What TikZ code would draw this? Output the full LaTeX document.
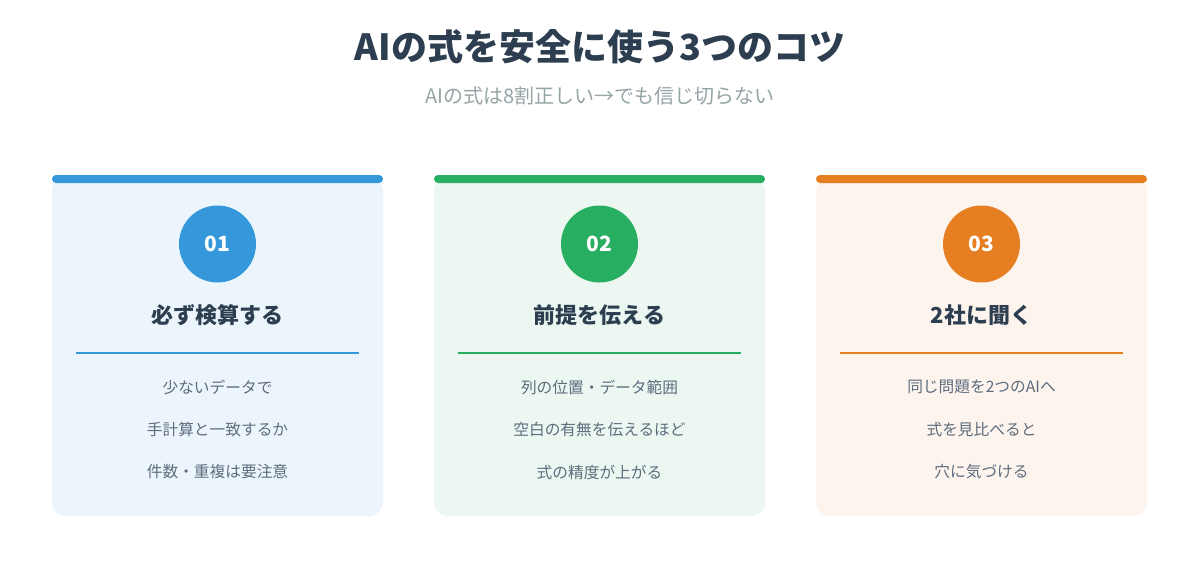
\documentclass[tikz,border=0pt]{standalone}
\usepackage{fontspec}
\setmainfont{Noto Sans CJK JP}
\definecolor{ink}{HTML}{2C3E50}
\definecolor{sub}{HTML}{95A5A6}
\definecolor{body}{HTML}{5D6D7E}
\definecolor{cA}{HTML}{3498DB}\definecolor{fA}{HTML}{EDF5FC}
\definecolor{cB}{HTML}{27AE60}\definecolor{fB}{HTML}{EBF7F0}
\definecolor{cC}{HTML}{E67E22}\definecolor{fC}{HTML}{FDF4EE}
\begin{document}
\begin{tikzpicture}[x=1pt,y=1pt,
  ttl/.style={font=\fontsize{36}{40}\selectfont\bfseries,text=ink},
  stl/.style={font=\fontsize{20}{24}\selectfont,text=sub},
  num/.style={circle,minimum size=77pt,inner sep=0pt,text=white,font=\fontsize{21}{24}\selectfont\bfseries},
  head/.style={font=\fontsize{22}{26}\selectfont\bfseries,text=ink},
  item/.style={font=\fontsize{15.7}{18}\selectfont,text=body}]
\fill[white] (0,0) rectangle (1200,-560);
\node[ttl] (t) at (600,-47) {AIの式を安全に使う3つのコツ};
\node[stl] (s) at (600,-96) {AIの式は8割正しい→でも信じ切らない};
\foreach \x/\c/\f/\n/\h/\a/\b/\d in {
 52/cA/fA/01/必ず検算する/少ないデータで/手計算と一致するか/件数・重複は要注意,
 434/cB/fB/02/前提を伝える/列の位置・データ範囲/空白の有無を伝えるほど/式の精度が上がる,
 816/cC/fC/03/2社に聞く/同じ問題を2つのAIへ/式を見比べると/穴に気づける}{
  \fill[\f,rounded corners=14pt] (\x,-177) rectangle (\x+331,-516);
  \fill[\c,rounded corners=4pt] (\x,-175) rectangle (\x+331,-183);
  \node[num,fill=\c] (n\n) at (\x+165.5,-244) {\n};
  \node[head] (h\n) at (\x+165.5,-315) {\h};
  \draw[\c,line width=1.5pt] (\x+24,-353) -- (\x+307,-353);
  \node[item] (a\n) at (\x+165.5,-387) {\a};
  \node[item] (b\n) at (\x+165.5,-430) {\b};
  \node[item] (d\n) at (\x+165.5,-472) {\d};
}
\useasboundingbox (0,0) rectangle (1200,-560);
\end{tikzpicture}
\end{document}
